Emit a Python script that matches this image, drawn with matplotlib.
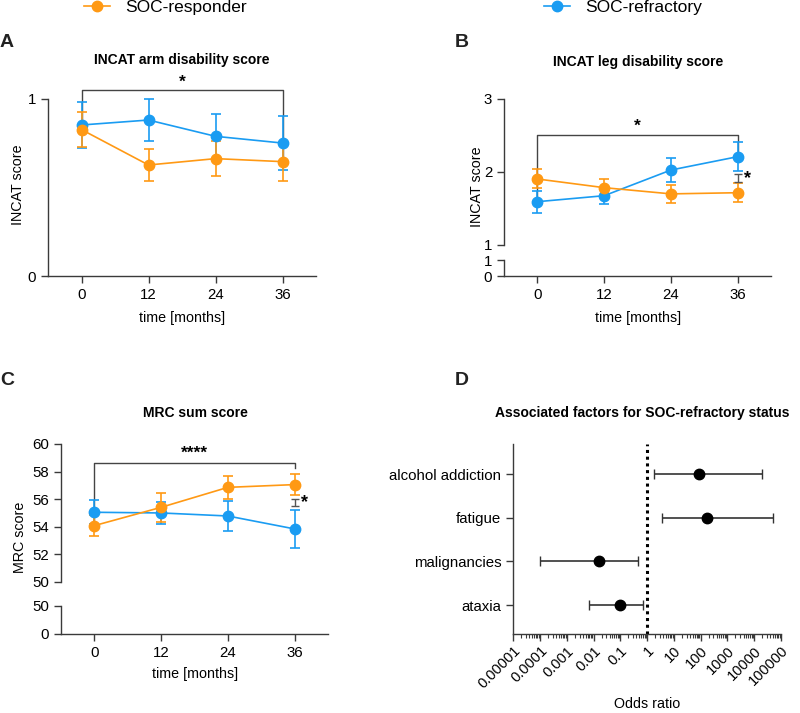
import matplotlib
matplotlib.use("Agg")
import matplotlib.pyplot as plt
from matplotlib.lines import Line2D
from matplotlib.ticker import LogLocator, NullFormatter, FixedLocator
import numpy as np

plt.rcParams['font.family'] = ['Liberation Sans', 'DejaVu Sans']

ORANGE = '#ff9914'
BLUE = '#1a9cf2'
AXC = '#3a3a3a'

months = [0, 12, 24, 36]

# A - INCAT arm disability score (mean, sem)
arm_resp = [0.827, 0.627, 0.663, 0.646]
arm_resp_err = [0.10, 0.088, 0.10, 0.11]
arm_refr = [0.853, 0.881, 0.789, 0.751]
arm_refr_err = [0.13, 0.117, 0.128, 0.15]

# B - INCAT leg disability score
leg_resp = [1.904, 1.785, 1.70, 1.716]
leg_resp_err = [0.13, 0.12, 0.12, 0.13]
leg_refr = [1.593, 1.675, 2.027, 2.21]
leg_refr_err = [0.15, 0.12, 0.165, 0.20]

# C - MRC sum score
mrc_resp = [54.07, 55.40, 56.85, 57.05]
mrc_resp_err = [0.75, 1.07, 0.85, 0.74]
mrc_refr = [55.04, 54.99, 54.77, 53.83]
mrc_refr_err = [0.87, 0.80, 1.12, 1.37]

# D - odds ratios
factors = ['ataxia', 'malignancies', 'fatigue', 'alcohol addiction']
odds = [0.093, 0.016, 174, 87]
ci_low = [0.0065, 0.0001, 3.5, 1.78]
ci_high = [0.68, 0.44, 50000, 19000]
or_ticks = [1e-5, 1e-4, 1e-3, 1e-2, 1e-1, 1, 10, 100, 1000, 10000, 100000]
or_labels = ['0.00001', '0.0001', '0.001', '0.01', '0.1', '1', '10', '100',
             '1000', '10000', '100000']

fig = plt.figure(figsize=(8, 7.13), dpi=100)


def style(ax, bottom=True):
    for s in ['top', 'right']:
        ax.spines[s].set_visible(False)
    ax.spines['left'].set_color(AXC)
    ax.spines['bottom'].set_color(AXC)
    ax.spines['left'].set_linewidth(1.0)
    ax.spines['bottom'].set_linewidth(1.0)
    ax.tick_params(colors=AXC, labelcolor='black', labelsize=10.8, width=1.0, length=5)
    ax.patch.set_alpha(0)
    if not bottom:
        ax.spines['bottom'].set_visible(False)
        ax.tick_params(axis='x', bottom=False, labelbottom=False)


def series(ax, y, err, color):
    ax.errorbar(months, y, yerr=err, color=color, ecolor=color, elinewidth=1.2,
                capsize=3.5, capthick=1.2, lw=1.2, marker='o', ms=7.5,
                clip_on=False, zorder=3)


def bracket(ax, y_top, y_left, y_right, stars, star_y):
    ax.plot([0, 0, 36, 36], [y_left, y_top, y_top, y_right], color='#444444',
            lw=1.0, clip_on=False, zorder=2)
    ax.text(18, star_y, stars, ha='center', va='center', fontsize=12.5,
            fontweight='bold', clip_on=False)


def small_bracket(ax, y0, y1, x=36):
    ax.errorbar([x], [(y0 + y1) / 2], yerr=[(y1 - y0) / 2], color='#555555',
                capsize=3, lw=0, elinewidth=1.0, capthick=1.0, clip_on=False, zorder=4)
    ax.text(x + 1.7, (y0 + y1) / 2, '*', ha='center', va='center', fontsize=13,
            fontweight='bold', clip_on=False)


def xaxis_months(ax):
    ax.set_xlim(-6, 42)
    ax.set_xticks(months)


# ---- A ----
axA = fig.add_axes([0.06, 0.6129, 0.335, 0.2483])
style(axA)
series(axA, arm_refr, arm_refr_err, BLUE)
series(axA, arm_resp, arm_resp_err, ORANGE)
axA.set_ylim(0, 1)
axA.set_yticks([0, 1])
xaxis_months(axA)
bracket(axA, 1.05, arm_resp[0], arm_resp[3], '*', 1.095)

# ---- B ----
axB = fig.add_axes([0.63, 0.6564, 0.334, 0.2048])
axB2 = fig.add_axes([0.63, 0.6129, 0.334, 0.0224])
style(axB, bottom=False)
style(axB2)
series(axB, leg_refr, leg_refr_err, BLUE)
series(axB, leg_resp, leg_resp_err, ORANGE)
axB.set_ylim(1, 3)
axB.set_yticks([1, 2, 3])
axB2.set_ylim(0, 1)
axB2.set_yticks([0, 1])
xaxis_months(axB)
xaxis_months(axB2)
bracket(axB, 2.5, leg_refr[0], leg_refr[3], '*', 2.63)
small_bracket(axB, 1.86, 1.97)

# ---- C ----
axC = fig.add_axes([0.07625, 0.1842, 0.33375, 0.1931])
axC2 = fig.add_axes([0.07625, 0.1108, 0.33375, 0.0393])
style(axC, bottom=False)
style(axC2)
series(axC, mrc_refr, mrc_refr_err, BLUE)
series(axC, mrc_resp, mrc_resp_err, ORANGE)
axC.set_ylim(50, 60)
axC.set_yticks(np.arange(50, 61, 2))
axC2.set_ylim(0, 50)
axC2.set_yticks([0, 50])
xaxis_months(axC)
xaxis_months(axC2)
bracket(axC, 58.6, mrc_resp[0], 58.25, '****', 59.3)
small_bracket(axC, 55.52, 55.98)

# ---- D ----
axD = fig.add_axes([0.6416, 0.1108, 0.3346, 0.266])
style(axD)
ypos = np.arange(len(factors))
odds_a = np.array(odds)
xerr = [odds_a - np.array(ci_low), np.array(ci_high) - odds_a]
axD.errorbar(odds, ypos, xerr=xerr, fmt='o', color='black', ecolor='#333333',
             ms=7.5, capsize=3.5, elinewidth=1.2, capthick=1.0, zorder=3)
axD.axvline(1, color='black', lw=2.2, ls=(0, (1, 1.2)), zorder=2)
axD.set_xscale('log')
axD.set_xlim(1e-5, 1e5)
axD.set_ylim(-0.66, 3.68)
axD.set_yticks(ypos)
axD.set_yticklabels(factors, fontsize=10.8)
axD.xaxis.set_major_locator(FixedLocator(or_ticks))
axD.set_xticklabels(or_labels, rotation=45, ha='right', rotation_mode='anchor',
                    fontsize=10.5)
axD.xaxis.set_minor_locator(LogLocator(base=10, subs=np.arange(2, 10), numticks=20))
axD.xaxis.set_minor_formatter(NullFormatter())
axD.tick_params(axis='x', which='minor', length=3, width=0.8, colors=AXC)
axD.tick_params(axis='x', which='major', length=5, pad=2)

# ---- texts ----
fig.text(0.0, 0.941, 'A', fontsize=14, fontweight='bold', va='center', color='#222222')
fig.text(0.569, 0.941, 'B', fontsize=14, fontweight='bold', va='center', color='#222222')
fig.text(0.0, 0.467, 'C', fontsize=14, fontweight='bold', va='center', color='#222222')
fig.text(0.569, 0.467, 'D', fontsize=14, fontweight='bold', va='center', color='#222222')

fig.text(0.2275, 0.9158, 'INCAT arm disability score', ha='center', va='center',
         fontsize=10, fontweight='bold')
fig.text(0.7975, 0.913, 'INCAT leg disability score', ha='center', va='center',
         fontsize=10, fontweight='bold')
fig.text(0.244, 0.4208, 'MRC sum score', ha='center', va='center',
         fontsize=10, fontweight='bold')
fig.text(0.8025, 0.4208, 'Associated factors for SOC-refractory status', ha='center',
         va='center', fontsize=10, fontweight='bold')

fig.text(0.2275, 0.554, 'time [months]', ha='center', va='center', fontsize=10.3)
fig.text(0.7975, 0.554, 'time [months]', ha='center', va='center', fontsize=10.3)
fig.text(0.244, 0.0547, 'time [months]', ha='center', va='center', fontsize=10.3)
fig.text(0.809, 0.012, 'Odds ratio', ha='center', va='center', fontsize=10.3)

fig.text(0.0225, 1 - 185 / 713, 'INCAT score', rotation=90, ha='center', va='center', fontsize=10.3)
fig.text(0.596, 1 - 187 / 713, 'INCAT score', rotation=90, ha='center', va='center', fontsize=10.3)
fig.text(0.025, 1 - 537 / 713, 'MRC score', rotation=90, ha='center', va='center', fontsize=10.3)

# ---- legend ----
h_resp = Line2D([], [], color=ORANGE, marker='o', ms=7.5, lw=1.2)
h_refr = Line2D([], [], color=BLUE, marker='o', ms=7.5, lw=1.2)
kw = dict(frameon=False, loc='upper left', fontsize=12.5, handlelength=1.5,
          handletextpad=0.9, borderpad=0, borderaxespad=0)
fig.legend([h_resp], ['SOC-responder'], bbox_to_anchor=(0.105, 1.0), **kw)
fig.legend([h_refr], ['SOC-refractory'], bbox_to_anchor=(0.68, 1.0), **kw)

fig.savefig('out.png', dpi=100)
